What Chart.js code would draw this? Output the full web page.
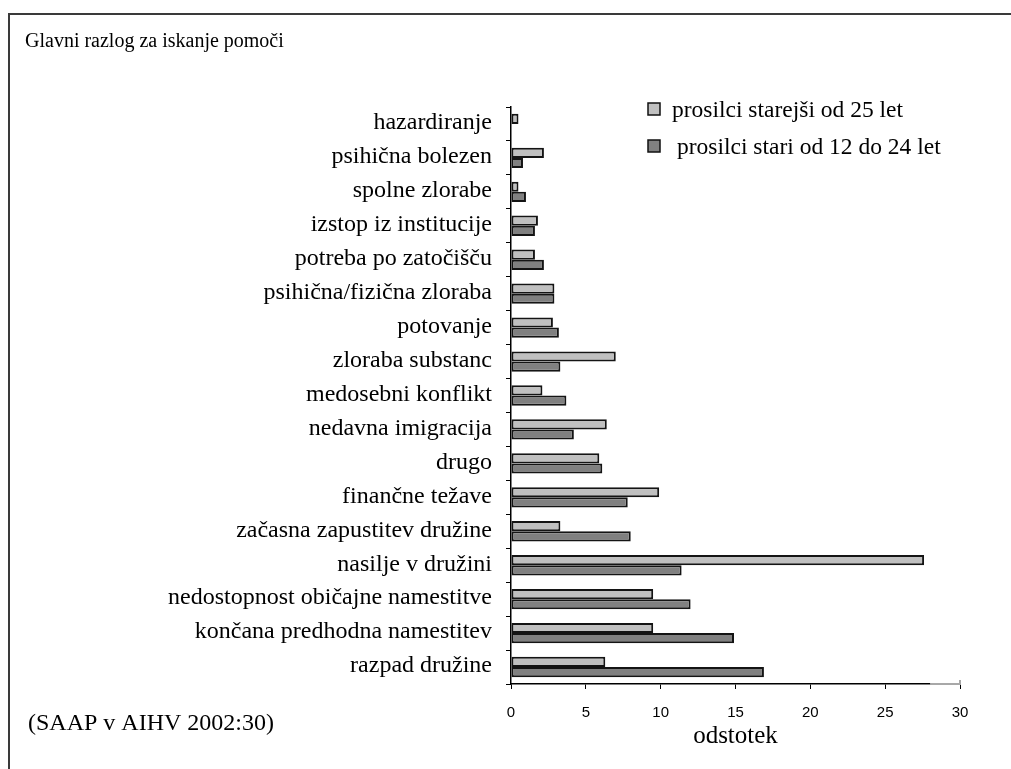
<!DOCTYPE html>
<html lang="sl">
<head>
<meta charset="utf-8">
<title>Glavni razlog za iskanje pomoči</title>
<script src="https://cdn.jsdelivr.net/npm/chart.js@4.4.1/dist/chart.umd.min.js"></script>
<style>
  html, body { margin: 0; padding: 0; background: #fff; overflow: hidden; }
  body { width: 1011px; height: 769px; position: relative; }
  .frame {
    position: absolute; left: 8px; top: 13px; width: 1100px; height: 800px;
    border-top: 2px solid #3a3a3a; border-left: 2px solid #3a3a3a;
  }
  #chart { position: absolute; left: 0; top: 0; }
</style>
</head>
<body>
<div class="frame"></div>
<canvas id="chart" width="1011" height="769"></canvas>
<script>
// Reasons for seeking help, by age group of applicants (percent)
const categories = [
  'hazardiranje',
  'psihična bolezen',
  'spolne zlorabe',
  'izstop iz institucije',
  'potreba po zatočišču',
  'psihična/fizična zloraba',
  'potovanje',
  'zloraba substanc',
  'medosebni konflikt',
  'nedavna imigracija',
  'drugo',
  'finančne težave',
  'začasna zapustitev družine',
  'nasilje v družini',
  'nedostopnost običajne namestitve',
  'končana predhodna namestitev',
  'razpad družine'
];
const olderApplicants   = [0.5, 2.2, 0.5, 1.8, 1.6, 2.9, 2.8, 7.0, 2.1, 6.4, 5.9, 9.9, 3.3, 27.6, 9.5, 9.5, 6.3];
const youngerApplicants = [0, 0.8, 1.0, 1.6, 2.2, 2.9, 3.2, 3.3, 3.7, 4.2, 6.1, 7.8, 8.0, 11.4, 12.0, 14.9, 16.9];
const seriesLabels = ['prosilci starejši od 25 let', 'prosilci stari od 12 do 24 let'];
const xTicks = [0, 5, 10, 15, 20, 25, 30];

const chartTitle = 'Glavni razlog za iskanje pomoči';
const sourceNote = '(SAAP v AIHV 2002:30)';
const xAxisTitle = 'odstotek';

const SERIF = "'Liberation Serif', 'Times New Roman', serif";
const SANS = "'Liberation Sans', Arial, sans-serif";

Chart.defaults.color = '#000';

// Title, source note, the boxed legend in the upper right and the
// light plot-frame stub at the right end of the value axis
const decorations = {
  id: 'decorations',
  afterDraw(chart) {
    const ctx = chart.ctx;
    const xs = chart.scales.x;
    const area = chart.chartArea;
    ctx.save();

    ctx.strokeStyle = '#a8a8a8';
    ctx.lineWidth = 2;
    ctx.beginPath();
    ctx.moveTo(xs.getPixelForValue(28), area.bottom);
    ctx.lineTo(xs.getPixelForValue(30), area.bottom);
    ctx.lineTo(xs.getPixelForValue(30), area.bottom - 4);
    ctx.stroke();

    ctx.fillStyle = '#000';
    ctx.textAlign = 'left';
    ctx.textBaseline = 'alphabetic';
    ctx.font = '20px ' + SERIF;
    ctx.fillText(chartTitle, 25, 47);
    ctx.font = '24px ' + SERIF;
    ctx.fillText(sourceNote, 28, 730);

    chart.data.datasets.forEach((ds, i) => {
      const bx = 648, by = 103 + i * 37;
      ctx.fillStyle = ds.backgroundColor;
      ctx.fillRect(bx, by, 12, 12);
      ctx.lineWidth = 1.5;
      ctx.strokeStyle = '#111';
      ctx.strokeRect(bx, by, 12, 12);
      ctx.fillStyle = '#000';
      ctx.font = '23.5px ' + SERIF;
      ctx.fillText(ds.label, 672 + i * 5, 117 + i * 36.5);
    });
    ctx.restore();
  }
};

new Chart(document.getElementById('chart'), {
  type: 'bar',
  data: {
    labels: categories,
    datasets: [
      {
        label: seriesLabels[0],
        data: olderApplicants,
        backgroundColor: '#c0c0c0',
        borderColor: '#141414',
        borderWidth: 2,
        borderSkipped: false
      },
      {
        label: seriesLabels[1],
        data: youngerApplicants,
        backgroundColor: '#808080',
        borderColor: '#141414',
        borderWidth: 2,
        borderSkipped: false
      }
    ]
  },
  options: {
    indexAxis: 'y',
    responsive: false,
    animation: false,
    events: [],
    categoryPercentage: 0.6,
    barPercentage: 1.0,
    layout: { padding: { left: 0, top: 107, right: 51, bottom: 18 } },
    plugins: {
      legend: { display: false },
      tooltip: { enabled: false },
      title: { display: false }
    },
    scales: {
      y: {
        type: 'category',
        afterFit(scale) { scale.width = 511; },
        border: { display: true, color: '#000', width: 1.5 },
        grid: {
          offset: true,
          drawOnChartArea: false,
          drawTicks: true,
          tickLength: 5,
          color: '#000'
        },
        ticks: {
          font: { family: SERIF, size: 24 },
          color: '#000',
          padding: 14,
          labelOffset: -1,
          autoSkip: false
        }
      },
      x: {
        type: 'linear',
        min: 0,
        max: 30,
        afterFit(scale) { scale.height = 67; },
        afterBuildTicks(scale) { scale.ticks = xTicks.map(v => ({ value: v })); },
        border: { display: true, color: '#000', width: 1.5 },
        grid: {
          drawOnChartArea: false,
          drawTicks: true,
          tickLength: 5,
          color: '#000'
        },
        ticks: {
          font: { family: SANS, size: 15 },
          color: '#000',
          padding: 15,
          maxRotation: 0
        },
        title: {
          display: true,
          text: xAxisTitle,
          font: { family: SERIF, size: 25 },
          color: '#000',
          align: 'center',
          padding: { top: 0, bottom: 0 }
        }
      }
    }
  },
  plugins: [decorations]
});
</script>
</body>
</html>
